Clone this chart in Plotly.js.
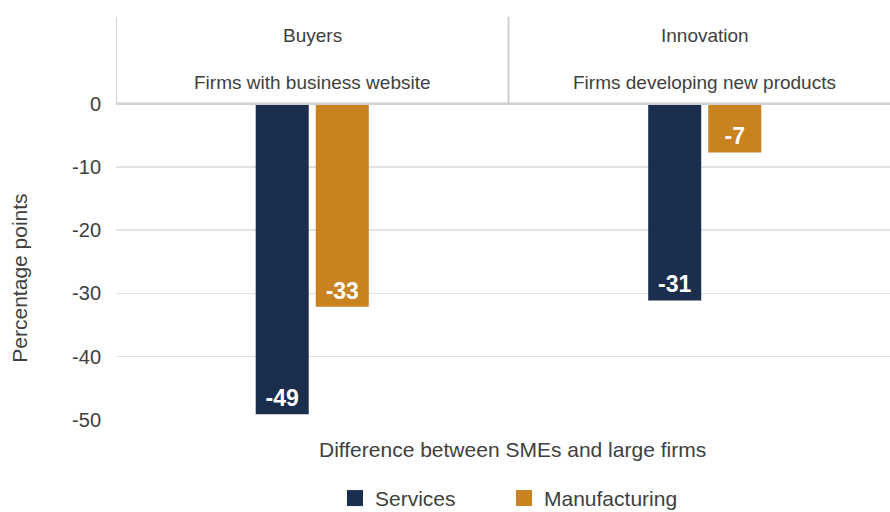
<!DOCTYPE html>
<html>
<head>
<meta charset="utf-8">
<script src="https://cdn.plot.ly/plotly-3.0.1.min.js"></script>
<style>html,body{margin:0;padding:0;background:#fff;}#chart{width:890px;height:512px;}</style>
</head>
<body>
<div id="chart"></div>
<script>
// ---- data ----
var categories = ["Buyers", "Innovation"];
var indicators = ["Firms with business website", "Firms developing new products"];
var seriesNames = ["Services", "Manufacturing"];
var servicesValues = [-49.1, -31.1];
var servicesLabels = ["-49", "-31"];
var manufacturingValues = [-32.1, -7.7];
var manufacturingLabels = ["-33", "-7"];
var yTickValues = [0, -10, -20, -30, -40, -50];
var yTickLabels = ["0", "-10", "-20", "-30", "-40", "-50"];

var FONT = "Liberation Sans, Arial, Helvetica, sans-serif";
var TXT = "#404040";
var COLORS = ["#1b2e4d", "#c8821f"];
var HEADLINE = "#cdd1cf";
var headerTop = 13.7;
var legendIds = ["legend", "legend2"];
var legendCentersPx = [355, 524];

var seriesValues = [servicesValues, manufacturingValues];
var seriesLabels = [servicesLabels, manufacturingLabels];

var traces = [];
seriesNames.forEach(function (name, s) {
  traces.push({
    type: "bar", name: name, x: categories, y: seriesValues[s],
    text: seriesLabels[s], textposition: "inside", insidetextanchor: "end",
    textfont: {family: FONT, size: 23, color: "#ffffff", weight: "bold"},
    constraintext: "none", marker: {color: COLORS[s]}, hoverinfo: "skip", textangle: 0,
    showlegend: false
  });
});
// legend entries (square swatches)
seriesNames.forEach(function (name, s) {
  traces.push({
    type: "scatter", mode: "markers", name: name, x: [null], y: [null],
    marker: {symbol: "square", size: 18, color: COLORS[s]}, hoverinfo: "skip",
    showlegend: true, legend: legendIds[s]
  });
});

var annotations = [];
categories.forEach(function (c, i) {
  annotations.push({x: i, y: 10.85, xref: "x", yref: "y", text: c, showarrow: false,
    font: {family: FONT, size: 19, color: TXT}, xanchor: "center", yanchor: "middle"});
  annotations.push({x: i, y: 3.27, xref: "x", yref: "y", text: indicators[i], showarrow: false,
    font: {family: FONT, size: 19, color: TXT}, xanchor: "center", yanchor: "middle"});
});
annotations.push({x: (512.5 - 116) / 774, y: -(450 - 420.5) / 403.5, xref: "paper", yref: "paper",
  text: "Difference between SMEs and large firms",
  showarrow: false, font: {family: FONT, size: 21, color: TXT}, xanchor: "center", yanchor: "middle"});
annotations.push({x: -(116 - 20) / 774, y: (420.5 - 279) / 403.5, xref: "paper", yref: "paper",
  text: "Percentage points", textangle: -90,
  showarrow: false, font: {family: FONT, size: 21, color: TXT}, xanchor: "center", yanchor: "middle"});

var shapes = [];
for (var k = 0; k < categories.length; k++) {
  shapes.push({type: "line", xref: "x", yref: "y", x0: k - 0.5, x1: k - 0.5, y0: 0, y1: headerTop,
    line: {color: HEADLINE, width: 2}});
}
shapes.push({type: "line", xref: "x", yref: "y", x0: -0.5, x1: categories.length - 0.5, y0: 0, y1: 0,
  line: {color: HEADLINE, width: 2.5}});

var layout = {
  width: 890, height: 512,
  margin: {l: 116, r: 0, t: 17, b: 91.5, pad: 0, autoexpand: false},
  paper_bgcolor: "#ffffff", plot_bgcolor: "#ffffff",
  font: {family: FONT, size: 18, color: TXT},
  barmode: "group", bargap: 0.694, bargroupgap: 0.117,
  xaxis: {type: "category", range: [-0.5, 1.472], showticklabels: false, showgrid: false,
    zeroline: false, showline: false, ticks: "", fixedrange: true},
  yaxis: {range: [-50, headerTop], tickvals: yTickValues, ticktext: yTickLabels,
    showgrid: true, gridcolor: "#e2e2e2", gridwidth: 1.5, zeroline: false, showline: false,
    ticks: "", ticklabelstandoff: 14, tickfont: {family: FONT, size: 20, color: TXT}, fixedrange: true},
  showlegend: true,
  annotations: annotations,
  shapes: shapes
};
legendIds.forEach(function (id, s) {
  layout[id] = {orientation: "h", x: (legendCentersPx[s] - 20 - 116) / 774, xanchor: "left",
    y: -(499 - 420.5) / 403.5, yanchor: "middle",
    font: {family: FONT, size: 21, color: TXT}, bgcolor: "rgba(0,0,0,0)"};
});

Plotly.newPlot("chart", traces, layout, {displayModeBar: false, staticPlot: true});
</script>
</body>
</html>
